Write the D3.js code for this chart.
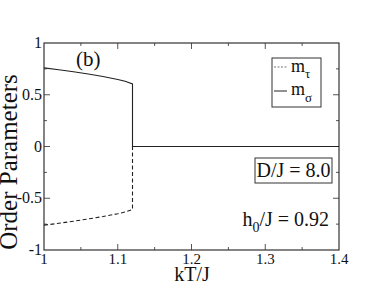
<!DOCTYPE html>
<html><head><meta charset="utf-8">
<script src="https://cdn.jsdelivr.net/npm/d3@7"></script>
<style>
body{margin:0;background:#fff;}
</style></head>
<body><div id="chart"></div>
<script>
/* Order parameters vs kT/J, panel (b): m_sigma solid, m_tau dashed, first-order jump near 1.12 */
var temps =[1.00,1.02,1.04,1.06,1.08,1.10,1.11,1.12,1.12,1.40];
var mSigma=[0.76,0.742,0.722,0.70,0.676,0.648,0.630,0.605,0,0];
var mTau  =[-0.76,-0.742,-0.722,-0.70,-0.677,-0.650,-0.633,-0.61,0,0];
var xTicks=[1,1.1,1.2,1.3,1.4], xMinor=[1.05,1.15,1.25,1.35];
var yTicks=[-1,-0.5,0,0.5,1], yMinor=[-0.75,-0.25,0.25,0.75];

var W=382,H=295, m={top:43,right:43,bottom:45,left:44};
var width=W-m.left-m.right, height=H-m.top-m.bottom;
var svg=d3.select("#chart").append("svg").attr("width",W).attr("height",H)
    .attr("font-family","'Times New Roman', 'Liberation Serif', 'DejaVu Serif', serif").attr("fill","#111");
var g=svg.append("g").attr("transform","translate("+m.left+","+m.top+")");
var x=d3.scaleLinear().domain([1,1.4]).range([0,width]);
var y=d3.scaleLinear().domain([-1,1]).range([height,0]);

// ticks pointing inward on all four sides
function ticks(vals,len){
    vals.forEach(function(v){
        g.append("line").attr("x1",x(v)).attr("x2",x(v)).attr("y1",height).attr("y2",height-len).attr("stroke","#555");
        g.append("line").attr("x1",x(v)).attr("x2",x(v)).attr("y1",0).attr("y2",len).attr("stroke","#555");
    });
}
function yt(vals,len){
    vals.forEach(function(v){
        g.append("line").attr("y1",y(v)).attr("y2",y(v)).attr("x1",0).attr("x2",len).attr("stroke","#555");
        g.append("line").attr("y1",y(v)).attr("y2",y(v)).attr("x1",width).attr("x2",width-len).attr("stroke","#555");
    });
}
ticks(xTicks.slice(1,-1),6); ticks(xMinor,3); yt(yTicks.slice(1,-1),6); yt(yMinor,3);

g.append("rect").attr("width",width).attr("height",height).attr("fill","none").attr("stroke","#333").attr("stroke-width",1.2);

g.selectAll("text.xl").data(xTicks).enter().append("text").attr("class","xl")
    .attr("x",function(d){return x(d);}).attr("y",height+14).attr("text-anchor","middle")
    .attr("font-size",15).text(function(d){return d===1?"1":d3.format(".1f")(d);});
g.selectAll("text.yl").data(yTicks).enter().append("text").attr("class","yl")
    .attr("x",-2).attr("y",function(d){return y(d)+5;}).attr("text-anchor","end")
    .attr("font-size",16).text(function(d){return d;});

var line=d3.line().x(function(d){return x(d[0]);}).y(function(d){return y(d[1]);});
g.append("path").datum(d3.zip(temps,mTau)).attr("d",line).attr("fill","none")
    .attr("stroke","#222").attr("stroke-width",1.1).attr("stroke-dasharray","4,2.5");
g.append("path").datum(d3.zip(temps,mSigma)).attr("d",line).attr("fill","none")
    .attr("stroke","#222").attr("stroke-width",1.1);

svg.append("text").attr("x",192).attr("y",281).attr("text-anchor","middle").attr("font-size",20).text("kT/J");
svg.append("text").attr("transform","translate(17,162) rotate(-90)").attr("text-anchor","middle")
    .attr("font-size",25).text("Order Parameters");
svg.append("text").attr("x",76).attr("y",66).attr("font-size",21).text("(b)");

// legend
svg.append("rect").attr("x",272).attr("y",58).attr("width",49).attr("height",49).attr("fill","#fff").attr("stroke","#333");
svg.append("line").attr("x1",274).attr("x2",287).attr("y1",67).attr("y2",67).attr("stroke","#777").attr("stroke-dasharray","2,1.5");
svg.append("line").attr("x1",274).attr("x2",287).attr("y1",91).attr("y2",91).attr("stroke","#222");
var l1=svg.append("text").attr("x",291).attr("y",72).attr("font-size",18);
l1.append("tspan").text("m"); l1.append("tspan").attr("dy",6).attr("font-size",13).text("τ");
var l2=svg.append("text").attr("x",291).attr("y",95).attr("font-size",18);
l2.append("tspan").text("m"); l2.append("tspan").attr("dy",7).attr("font-size",13).text("σ");

svg.append("rect").attr("x",255).attr("y",158).attr("width",77).attr("height",25).attr("fill","#fff").attr("stroke","#333");
svg.append("text").attr("x",293.5).attr("y",177).attr("text-anchor","middle").attr("font-size",20).text("D/J = 8.0");

var h=svg.append("text").attr("x",329).attr("y",226).attr("text-anchor","end").attr("font-size",20);
h.append("tspan").text("h"); h.append("tspan").attr("dy",6).attr("font-size",14).text("0");
h.append("tspan").attr("dy",-6).text("/J = 0.92");
</script></body></html>
